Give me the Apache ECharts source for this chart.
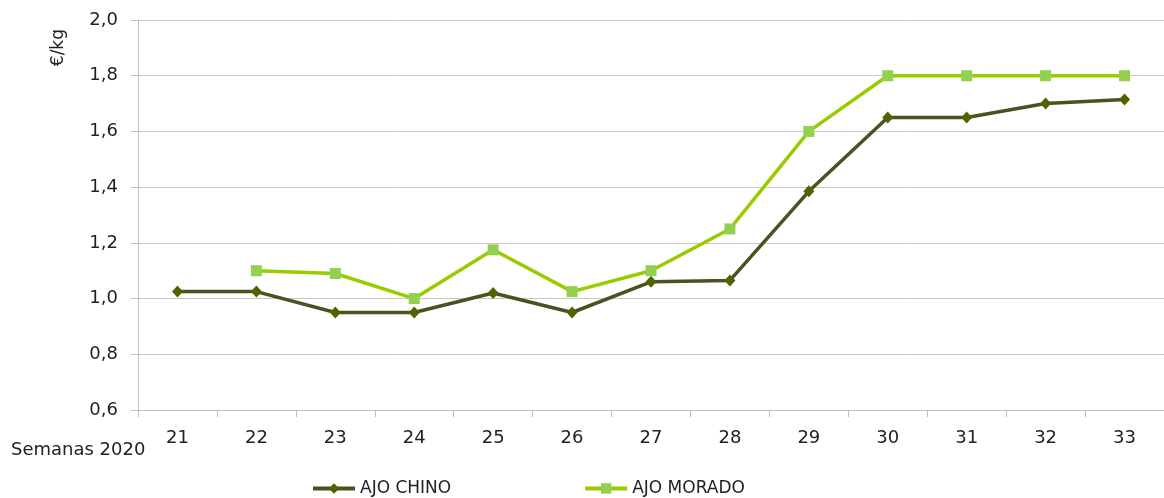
<!DOCTYPE html>
<html>
<head>
<meta charset="utf-8">
<script src="https://cdn.jsdelivr.net/npm/echarts@6/dist/echarts.min.js"></script>
<style>
  html, body { margin: 0; padding: 0; background: #fff; }
  #chart { width: 1164px; height: 498px; }
</style>
</head>
<body>
<div id="chart"></div>
<script>
const weeks = ['21', '22', '23', '24', '25', '26', '27', '28', '29', '30', '31', '32', '33'];
const ajoChino = [1.025, 1.025, 0.95, 0.95, 1.02, 0.95, 1.06, 1.065, 1.385, 1.65, 1.65, 1.70, 1.715];
const ajoMorado = [null, 1.10, 1.09, 1.00, 1.175, 1.025, 1.10, 1.25, 1.60, 1.80, 1.80, 1.80, 1.80];

const font = '"DejaVu Sans", sans-serif';
const chart = echarts.init(document.getElementById('chart'));

let option = {
  animation: false,
  textStyle: { fontFamily: font },
  grid: { left: 138, top: 20, width: 1030, height: 390 },
  graphic: [
    {
      type: 'text',
      left: 50, top: 29,
      rotation: Math.PI / 2,
      style: { text: '€/kg', font: '17px ' + font, fill: '#222' }
    },
    {
      type: 'text',
      left: 11, top: 441,
      style: { text: 'Semanas 2020', font: '18px ' + font, fill: '#222' }
    }
  ],
  legend: {
    top: 475,
    left: 306,
    itemGap: 132,
    itemWidth: 42,
    itemHeight: 13,
    lineStyle: { width: 4 },
    textStyle: { fontSize: 17, color: '#222', fontFamily: font },
    data: ['AJO CHINO', 'AJO MORADO']
  },
  xAxis: {
    type: 'category',
    data: weeks,
    boundaryGap: true,
    axisLine: { lineStyle: { color: '#bfbfbf', width: 1 } },
    axisTick: { show: true, length: 7, lineStyle: { color: '#bfbfbf' } },
    axisLabel: { fontSize: 18, color: '#222', margin: 19 }
  },
  yAxis: {
    type: 'value',
    min: 0.6,
    max: 2.0,
    interval: 0.2,
    axisLine: { show: true, lineStyle: { color: '#bfbfbf' } },
    axisTick: { show: true, length: 7, lineStyle: { color: '#bfbfbf' } },
    splitLine: { lineStyle: { color: '#c8c8c8', width: 1 } },
    axisLabel: {
      fontSize: 18, color: '#222', margin: 20,
      formatter: v => v.toFixed(1).replace('.', ',')
    }
  },
  series: [
    {
      name: 'AJO CHINO',
      type: 'line',
      data: ajoChino,
      symbol: 'diamond',
      symbolSize: [11, 12],
      lineStyle: { color: '#4a5220', width: 3.5 },
      itemStyle: { color: '#4e6400' }
    },
    {
      name: 'AJO MORADO',
      type: 'line',
      data: ajoMorado,
      symbol: 'rect',
      symbolSize: 11,
      lineStyle: { color: '#99cc00', width: 3.5 },
      itemStyle: { color: '#92d050' }
    }
  ]
};
chart.setOption(option);
</script>
</body>
</html>
